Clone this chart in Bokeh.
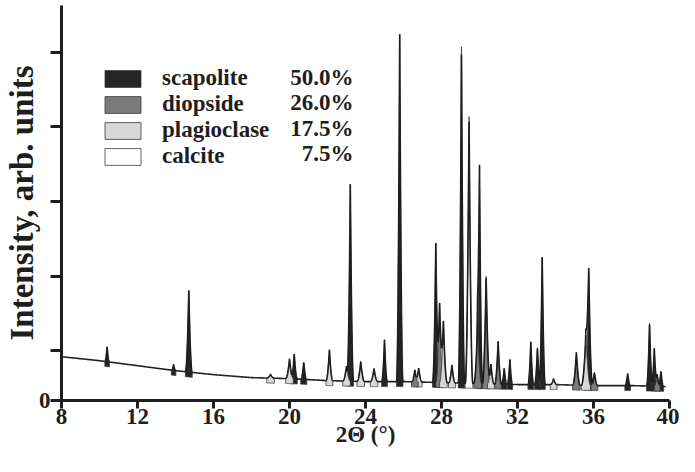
import numpy as np
from bokeh.plotting import figure
from bokeh.models import (Range1d, FixedTicker, Legend, LegendItem, Label,
                          ColumnDataSource)
from bokeh.embed import file_html
from bokeh.resources import INLINE

# ---------------- data ----------------
phase_names = ["scapolite", "diopside", "plagioclase", "calcite"]
phase_pct = [50.0, 26.0, 17.5, 7.5]
phase_colors = ["#252525", "#7b7b7b", "#d8d8d8", "#ffffff"]

x_ticks = [8, 12, 16, 20, 24, 28, 32, 36, 40]
y_ticks = [0, 50, 125, 200, 275, 350]

# background level (arb. units) read along the pattern
bg_x = [8, 10, 12, 14, 16, 18, 20, 22, 24, 26, 28, 30, 32, 34, 36, 38, 40]
bg_y = [44, 40, 35, 30, 26, 23, 22, 20, 19, 19, 18, 17, 16, 16, 15, 15, 14]

# reflections: position (2theta), height above background, half base width, phase index
peak_pos = [10.4, 13.9, 14.7, 19.0, 20.0, 20.25, 20.75, 22.1, 23.0, 23.2,
            23.75, 24.45, 25.0, 25.8, 26.6, 26.8, 27.7, 27.9, 28.1, 28.55,
            29.05, 29.45, 29.9, 30.0, 30.35, 30.6, 30.98, 31.3, 31.6, 32.7,
            33.05, 33.3, 33.9, 35.1, 35.6, 35.75, 36.05, 37.8, 38.95, 39.2,
            39.35, 39.55]
peak_height = [15, 6, 82, 4, 20, 25, 17, 31, 15, 198,
               20, 13, 42, 349, 12, 14, 140, 80, 62, 18,
               338, 268, 60, 205, 108, 20, 43, 16, 25, 43,
               37, 128, 6, 33, 50, 113, 13, 12, 63, 38,
               12, 15]
peak_width = [0.12, 0.12, 0.18, 0.2, 0.2, 0.16, 0.16, 0.18, 0.2, 0.17,
              0.2, 0.2, 0.15, 0.17, 0.18, 0.18, 0.17, 0.2, 0.2, 0.18,
              0.17, 0.2, 0.2, 0.16, 0.2, 0.18, 0.18, 0.14, 0.14, 0.15,
              0.15, 0.16, 0.18, 0.2, 0.24, 0.2, 0.18, 0.15, 0.16, 0.15,
              0.15, 0.14]
peak_phase = [0, 0, 0, 2, 2, 0, 0, 2, 2, 0,
              2, 2, 0, 0, 1, 2, 0, 1, 2, 2,
              0, 3, 1, 0, 1, 2, 1, 0, 0, 0,
              0, 0, 2, 1, 2, 0, 1, 0, 0, 0,
              1, 0]

FONT = "Liberation Serif"
INK = "#1e1e1e"


def shape(x, c, h, w):
    d = np.abs(x - c) / w
    return np.where(d < 1, h * (1 - d) ** 2, 0.0)


# ---------------- figure ----------------
p = figure(width=679, height=456, output_backend="svg",
           toolbar_location=None,
           x_range=Range1d(8, 40), y_range=Range1d(0, 397),
           min_border_left=58, min_border_right=10, min_border_top=5,
           min_border_bottom=56)
p.outline_line_color = None
p.xgrid.visible = False
p.ygrid.visible = False
p.background_fill_color = "white"
p.border_fill_color = "white"

# peak patches (tallest drawn first so small ones stay visible)
order = sorted(range(len(peak_pos)), key=lambda i: -peak_height[i])
xs, ys, fills = [], [], []
for i in order:
    c, h, w = peak_pos[i], peak_height[i], peak_width[i]
    xx = np.linspace(c - w, c + w, 41)
    base = np.interp(xx, bg_x, bg_y)
    top = base + shape(xx, c, h, w)
    xs.append(list(xx) + list(xx[::-1]))
    ys.append(list(top) + list(base[::-1] - 5))
    fills.append(phase_colors[peak_phase[i]])
src = ColumnDataSource(dict(xs=xs, ys=ys, fill=fills))
pr = p.patches("xs", "ys", source=src, fill_color="fill",
               line_color="#3a3a3a", line_width=0.8)

# full profile line
xg = np.arange(8.0, 39.8, 0.004)
prof = np.interp(xg, bg_x, bg_y)
for c, h, w in zip(peak_pos, peak_height, peak_width):
    prof = prof + shape(xg, c, h, w)
p.line(xg, prof, line_color=INK, line_width=1.6)

# ---------------- axes ----------------
for ax in (p.xaxis[0], p.yaxis[0]):
    ax.axis_line_width = 3
    ax.axis_line_color = INK
    ax.major_tick_line_width = 3
    ax.major_tick_line_color = INK
    ax.major_tick_in = 0
    ax.minor_tick_line_color = None
    ax.major_label_text_font = FONT
    ax.major_label_text_font_style = "bold"
    ax.major_label_text_color = INK
    ax.axis_label_text_font = FONT
    ax.axis_label_text_font_style = "bold"
    ax.axis_label_text_color = INK

p.xaxis.ticker = FixedTicker(ticks=x_ticks)
p.xaxis.major_tick_out = 8
p.xaxis.major_label_text_font_size = "23px"
p.xaxis.major_label_standoff = 0
p.xaxis.axis_label = "2\u0398 (\u00b0)"
p.xaxis.axis_label_text_font_size = "23px"
p.xaxis.axis_label_standoff = -5

p.yaxis.ticker = FixedTicker(ticks=y_ticks)
p.yaxis.major_label_overrides = {t: ("0" if t == 0 else "") for t in y_ticks}
p.yaxis.major_tick_out = 11
p.yaxis.major_label_text_font_size = "23px"
p.yaxis.major_label_standoff = 0
p.yaxis.axis_label = "Intensity, arb. units"
p.yaxis.axis_label_text_font_size = "33px"
p.yaxis.axis_label_standoff = -4

# ---------------- legend ----------------
first_idx = {}
for j, i in enumerate(order):
    first_idx.setdefault(peak_phase[i], j)
items = [LegendItem(label=phase_names[k], renderers=[pr], index=first_idx[k])
         for k in range(len(phase_names))]
legend = Legend(items=items, location=(39, 231), padding=0, margin=0,
                spacing=0, glyph_width=45, glyph_height=21, label_standoff=17,
                label_text_font=FONT, label_text_font_style="bold",
                label_text_font_size="23px", label_text_color=INK,
                border_line_alpha=0, background_fill_alpha=0)
p.add_layout(legend)

row_y = [323, 298, 272.5, 247]
for k, pct in enumerate(phase_pct):
    p.add_layout(Label(x=292, y=row_y[k], x_units="screen", y_units="screen",
                       text=f"{pct:.1f}%", text_align="right",
                       text_baseline="middle", text_font=FONT,
                       text_font_style="bold", text_font_size="23px",
                       text_color=INK))

open("out.html", "w").write(file_html(p, INLINE))
